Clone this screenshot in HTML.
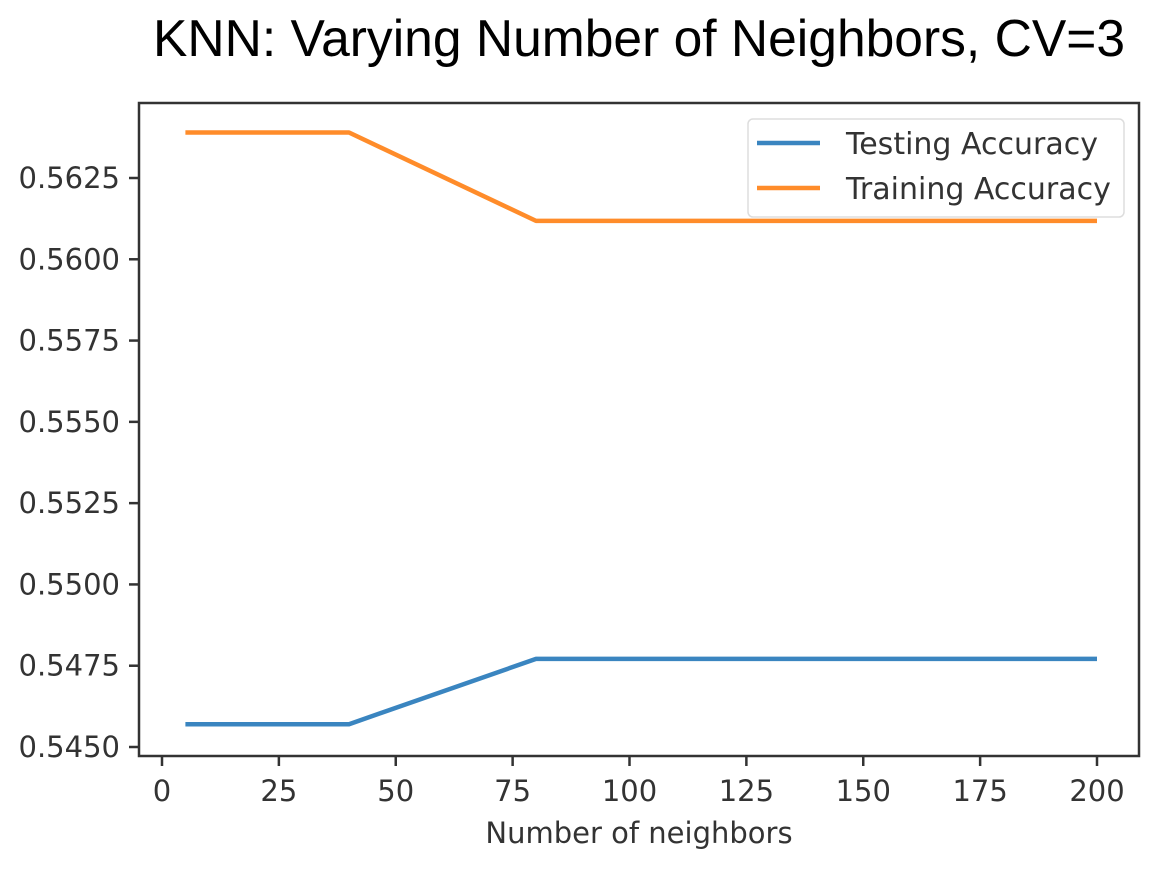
<!DOCTYPE html>
<html><head><meta charset="utf-8"><style>
body{margin:0;background:#fff;}
svg{display:block;font-family:"DejaVu Sans","Liberation Sans",sans-serif;}
</style></head><body>
<svg id="chart" width="1171" height="880" viewBox="0 0 1171 880" xmlns="http://www.w3.org/2000/svg">
<text x="153" y="56" font-family="Liberation Sans, sans-serif" font-size="52" textLength="972" lengthAdjust="spacingAndGlyphs" fill="#000">KNN: Varying Number of Neighbors, CV=3</text>
<g id="plot"></g>
</svg>
<script>
const xValues = [5, 40, 80, 120, 160, 200];
const testingAccuracy = [0.5457, 0.5457, 0.54771, 0.54771, 0.54771, 0.54771];
const trainingAccuracy = [0.56390, 0.56390, 0.56118, 0.56118, 0.56118, 0.56118];
const xTicks = [0, 25, 50, 75, 100, 125, 150, 175, 200];
const yTicks = [0.5450, 0.5475, 0.5500, 0.5525, 0.5550, 0.5575, 0.5600, 0.5625];

const NS = 'http://www.w3.org/2000/svg';
const L = 139, R = 1139, T = 103, B = 756;
function xs(v){ return 162 + (v - 0) * (1097 - 162) / 200; }
function ys(v){ return 747 - (v - 0.5450) * (747 - 178) / 0.0175; }
const g = document.getElementById('plot');
function mk(tag, attrs){ const e = document.createElementNS(NS, tag); for (const k in attrs) e.setAttribute(k, attrs[k]); g.appendChild(e); return e; }

function series(vals, color, name){
  const pts = xValues.map((x,i)=>xs(x).toFixed(1)+','+ys(vals[i]).toFixed(1)).join(' ');
  const p = mk('polyline', {points: pts, fill: 'none', stroke: color, 'stroke-width': 4.5, 'stroke-linejoin': 'round'});
  
  
}
series(testingAccuracy, '#3a85c0', 'testing-accuracy-line');
series(trainingAccuracy, '#ff8c2a', 'training-accuracy-line');

const frame = mk('rect', {x: L, y: T, width: R - L, height: B - T, fill: 'none', stroke: '#333', 'stroke-width': 2.5});



xTicks.forEach(t => {
  const x = xs(t);
  const tk = mk('line', {x1: x, x2: x, y1: B, y2: B + 10, stroke: '#333', 'stroke-width': 2.5});
  
  
  const tx = mk('text', {x: x, y: B + 45, 'text-anchor': 'middle', 'font-size': 29, fill: '#333'});
  
  
  tx.textContent = t;
});
yTicks.forEach(t => {
  const y = ys(t);
  const tk = mk('line', {x1: L - 10, x2: L, y1: y, y2: y, stroke: '#333', 'stroke-width': 2.5});
  
  
  const tx = mk('text', {x: L - 19, y: y + 10, 'text-anchor': 'end', 'font-size': 29, fill: '#333'});
  
  
  tx.textContent = t.toFixed(4);
});
const xt = mk('text', {x: 639, y: 843, 'text-anchor': 'middle', 'font-size': 29, fill: '#333'});


xt.textContent = 'Number of neighbors';

const lg = mk('rect', {x: 748, y: 119, width: 376, height: 98, rx: 5, fill: '#fff', 'fill-opacity': 0.85, stroke: '#ddd', 'stroke-width': 1.5});


[['Testing Accuracy', '#3a85c0', 143], ['Training Accuracy', '#ff8c2a', 188]].forEach(([label, c, y]) => {
  const ln = mk('line', {x1: 757, x2: 820, y1: y, y2: y, stroke: c, 'stroke-width': 4.5});
  
  
  const tx = mk('text', {x: 846, y: y + 11, 'font-size': 30, fill: '#333'});
  
  
  tx.textContent = label;
});
</script>
</body></html>
